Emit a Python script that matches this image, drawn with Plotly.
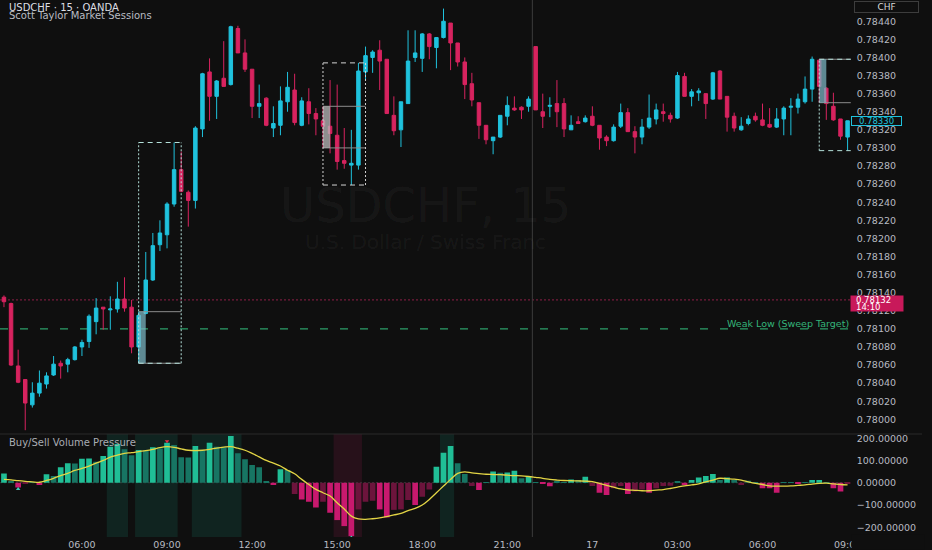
import pandas as pd
import plotly.graph_objects as go

# USDCHF 15m (OANDA)
bar_times = pd.date_range('2025-06-16 03:15', periods=120, freq='15min')
bar_step = pd.Timedelta('15min')

opens = [0.78135, 0.78128, 0.78059, 0.78044, 0.78016, 0.78029, 0.78039, 0.78049, 0.78062, 0.78061,
         0.78066, 0.78080, 0.78086, 0.78108, 0.78124, 0.78121, 0.78122, 0.78133, 0.78124, 0.78080,
         0.78117, 0.78154, 0.78193, 0.78204, 0.78238, 0.78276, 0.78251, 0.78242, 0.78321, 0.78384,
         0.78357, 0.78377, 0.78370, 0.78432, 0.78405, 0.78387, 0.78346, 0.78355, 0.78322, 0.78325,
         0.78351, 0.78364, 0.78325, 0.78351, 0.78338, 0.78330, 0.78324, 0.78314, 0.78286, 0.78281,
         0.78281, 0.78384, 0.78400, 0.78408, 0.78398, 0.78336, 0.78320, 0.78349, 0.78400, 0.78399,
         0.78426, 0.78411, 0.78422, 0.78438, 0.78416, 0.78395, 0.78371, 0.78350, 0.78325, 0.78308,
         0.78312, 0.78335, 0.78344, 0.78345, 0.78346, 0.78412, 0.78340, 0.78346, 0.78349, 0.78349,
         0.78320, 0.78329, 0.78329, 0.78335, 0.78325, 0.78312, 0.78308, 0.78324, 0.78339, 0.78318,
         0.78312, 0.78323, 0.78332, 0.78340, 0.78336, 0.78333, 0.78379, 0.78357, 0.78361, 0.78360,
         0.78354, 0.78385, 0.78357, 0.78335, 0.78320, 0.78327, 0.78335, 0.78331, 0.78326, 0.78323,
         0.78332, 0.78345, 0.78345, 0.78351, 0.78365, 0.78397, 0.78366, 0.78346, 0.78332, 0.78312]
highs = [0.78137, 0.78129, 0.78077, 0.78044, 0.78041, 0.78054, 0.78052, 0.78070, 0.78065, 0.78068,
         0.78081, 0.78088, 0.78116, 0.78134, 0.78124, 0.78136, 0.78152, 0.78157, 0.78132, 0.78119,
         0.78185, 0.78206, 0.78220, 0.78240, 0.78306, 0.78296, 0.78253, 0.78324, 0.78383, 0.78399,
         0.78375, 0.78418, 0.78435, 0.78435, 0.78420, 0.78387, 0.78370, 0.78356, 0.78346, 0.78368,
         0.78384, 0.78382, 0.78356, 0.78366, 0.78344, 0.78346, 0.78375, 0.78370, 0.78322, 0.78320,
         0.78394, 0.78412, 0.78408, 0.78419, 0.78398, 0.78357, 0.78351, 0.78430, 0.78430, 0.78427,
         0.78427, 0.78422, 0.78454, 0.78438, 0.78416, 0.78400, 0.78383, 0.78350, 0.78325, 0.78312,
         0.78336, 0.78357, 0.78357, 0.78346, 0.78357, 0.78412, 0.78360, 0.78356, 0.78375, 0.78355,
         0.78336, 0.78335, 0.78336, 0.78346, 0.78325, 0.78314, 0.78326, 0.78349, 0.78344, 0.78324,
         0.78332, 0.78359, 0.78349, 0.78349, 0.78339, 0.78384, 0.78383, 0.78365, 0.78366, 0.78360,
         0.78384, 0.78386, 0.78357, 0.78339, 0.78334, 0.78336, 0.78339, 0.78349, 0.78344, 0.78344,
         0.78346, 0.78355, 0.78360, 0.78379, 0.78401, 0.78398, 0.78367, 0.78361, 0.78332, 0.78330]
lows = [0.78124, 0.78059, 0.78040, 0.77988, 0.78013, 0.78025, 0.78034, 0.78048, 0.78045, 0.78052,
        0.78065, 0.78070, 0.78079, 0.78094, 0.78099, 0.78099, 0.78118, 0.78119, 0.78073, 0.78062,
        0.78116, 0.78153, 0.78186, 0.78189, 0.78235, 0.78251, 0.78213, 0.78233, 0.78312, 0.78330,
        0.78332, 0.78368, 0.78369, 0.78405, 0.78384, 0.78333, 0.78333, 0.78324, 0.78312, 0.78314,
        0.78340, 0.78325, 0.78324, 0.78326, 0.78314, 0.78300, 0.78294, 0.78276, 0.78277, 0.78259,
        0.78276, 0.78375, 0.78383, 0.78364, 0.78338, 0.78314, 0.78301, 0.78349, 0.78395, 0.78384,
        0.78398, 0.78388, 0.78421, 0.78386, 0.78390, 0.78354, 0.78346, 0.78310, 0.78304, 0.78293,
        0.78311, 0.78325, 0.78341, 0.78332, 0.78340, 0.78342, 0.78322, 0.78334, 0.78323, 0.78312,
        0.78320, 0.78327, 0.78328, 0.78324, 0.78298, 0.78302, 0.78307, 0.78322, 0.78318, 0.78294,
        0.78304, 0.78321, 0.78326, 0.78329, 0.78328, 0.78332, 0.78357, 0.78346, 0.78352, 0.78332,
        0.78353, 0.78354, 0.78318, 0.78318, 0.78319, 0.78325, 0.78329, 0.78324, 0.78322, 0.78322,
        0.78314, 0.78314, 0.78338, 0.78349, 0.78351, 0.78350, 0.78331, 0.78330, 0.78309, 0.78297]
closes = [0.78130, 0.78060, 0.78041, 0.78018, 0.78029, 0.78040, 0.78048, 0.78061, 0.78059, 0.78066,
          0.78080, 0.78085, 0.78114, 0.78123, 0.78122, 0.78122, 0.78133, 0.78123, 0.78080, 0.78115,
          0.78154, 0.78192, 0.78206, 0.78238, 0.78276, 0.78252, 0.78242, 0.78322, 0.78382, 0.78357,
          0.78374, 0.78368, 0.78434, 0.78405, 0.78387, 0.78346, 0.78349, 0.78325, 0.78327, 0.78352,
          0.78367, 0.78328, 0.78352, 0.78338, 0.78332, 0.78324, 0.78316, 0.78285, 0.78283, 0.78283,
          0.78385, 0.78402, 0.78406, 0.78396, 0.78338, 0.78319, 0.78351, 0.78396, 0.78405, 0.78426,
          0.78412, 0.78422, 0.78440, 0.78416, 0.78395, 0.78370, 0.78353, 0.78325, 0.78309, 0.78312,
          0.78336, 0.78347, 0.78342, 0.78342, 0.78354, 0.78342, 0.78335, 0.78347, 0.78340, 0.78321,
          0.78325, 0.78327, 0.78333, 0.78325, 0.78311, 0.78308, 0.78323, 0.78339, 0.78318, 0.78312,
          0.78323, 0.78333, 0.78342, 0.78338, 0.78332, 0.78380, 0.78357, 0.78362, 0.78363, 0.78349,
          0.78383, 0.78354, 0.78334, 0.78322, 0.78324, 0.78332, 0.78331, 0.78325, 0.78323, 0.78332,
          0.78344, 0.78346, 0.78354, 0.78365, 0.78398, 0.78368, 0.78349, 0.78331, 0.78313, 0.78330]

# Buy/Sell Volume Pressure histogram + its smoothed line
pressure = [42, 5, -22, -4, 3, -10, 38, 30, 69, 87,
            86, 108, 109, 94, 120, 162, 174, 150, 124, 147,
            145, 159, 154, 180, 169, 114, 113, 165, 147, 180,
            162, 160, 210, 132, 105, 80, 69, 5, -10, 60,
            57, -51, -75, -85, -111, -85, -135, -168, -195, -240,
            -120, -85, -81, -120, -156, -122, -120, -78, -100, -63,
            -30, 72, 135, 165, 87, 39, -15, -33, 2, 50,
            45, 46, 54, 20, 30, 2, -6, -16, 8, 1,
            15, 12, 27, -15, -45, -55, -25, -15, -51, -40,
            -30, -45, -25, -15, -14, 5, -10, 12, 24, 30,
            39, 12, 24, 12, -10, 9, 1, -25, -25, -45,
            2, 1, -3, 1, 12, 12, 2, -25, -40, -5]
pressure_signal = [15, 13, 9, 6, 4, 2, 10, 20, 32, 42,
                   55, 64, 75, 88, 100, 115, 124, 132, 135, 140,
                   144, 150, 158, 162, 159, 152, 146, 144, 146, 150,
                   156, 160, 162, 155, 146, 132, 116, 100, 88, 75,
                   56, 40, 15, -8, -30, -45, -60, -90, -118, -150,
                   -163, -165, -162, -158, -152, -145, -138, -125, -115, -100,
                   -75, -45, -15, 15, 42, 49, 44, 41, 38, 37,
                   36, 34, 32, 31, 28, 24, 20, 15, 12, 10,
                   9, 8, 7, 5, -3, -12, -20, -28, -32, -34,
                   -36, -36, -33, -31, -26, -20, -14, -10, -5, 4,
                   12, 20, 18, 16, 12, 4, -3, -8, -14, -15,
                   -15, -14, -12, -10, -6, -3, -2, -5, -8, -10]

# shaded pressure zones (bar index from/to)
band_from = [15, 19, 27, 47, 62]
band_to = [17, 24, 33, 50, 63]
band_side = ['buy', 'buy', 'buy', 'sell', 'buy']
signal_up_idx = [2, 49]
signal_down_idx = [23]

# market sessions: first bar, bars per box
session_start = [19, 45, 115]
session_kind = ['london', 'newyork', 'london']
session_bars = 6

price_ticks = [0.78000, 0.78020, 0.78040, 0.78060, 0.78080, 0.78100, 0.78120, 0.78140,
               0.78160, 0.78180, 0.78200, 0.78220, 0.78240, 0.78260, 0.78280, 0.78300,
               0.78320, 0.78340, 0.78360, 0.78380, 0.78400, 0.78420, 0.78440]
pressure_ticks = [-200, -100, 0, 100, 200]
time_tick_idx = [11, 23, 35, 47, 59, 71, 83, 95, 107, 119]
time_tick_text = ['06:00', '09:00', '12:00', '15:00', '18:00', '21:00', '17', '03:00', '06:00', '09:00']

weak_low = 0.78100
last_price = 0.78132
countdown = '14:10'
quote_price = 0.78330
crosshair_time = pd.Timestamp('2025-06-16 21:53')

# styling
BG = '#0f0f0f'
UP = '#1fc2dd'
DOWN = '#d7235f'
FONT = 'DejaVu Sans'
AXIS_TXT = '#b8bbc2'
PLOT_R = 860 / 932
PANE_T = 1 - 434 / 550
PANE_B = 1 - 537 / 550
box_line = {'london': '#b4e0da', 'newyork': '#d4d4d4'}
box_fill = {'london': 'rgba(125,185,198,0.72)', 'newyork': 'rgba(185,185,185,0.75)'}


def t_at(i):
    return bar_times[0] + i * bar_step


def px_y(y):
    # pixel row -> paper coordinate
    return 1 - y / 550


fig = go.Figure()

# indicator pane
bar_cols = []
for k, v in enumerate(pressure):
    prev = abs(pressure[k - 1]) if k > 0 else 0
    strong = abs(v) >= prev
    if v >= 0:
        bar_cols.append('#20be96' if strong else '#177563')
    else:
        bar_cols.append('#c8196e' if strong else '#6c143c')

fig.add_trace(go.Bar(x=bar_times, y=pressure, marker_color=bar_cols, marker_line_width=0,
                     width=0.8 * bar_step.total_seconds() * 1000,
                     xaxis='x', yaxis='y', hoverinfo='skip'))
fig.add_trace(go.Scatter(x=bar_times, y=pressure_signal, mode='lines',
                         line=dict(color='#e3d545', width=1.3, shape='spline'),
                         xaxis='x', yaxis='y', hoverinfo='skip'))
fig.add_trace(go.Scatter(x=[bar_times[i] for i in signal_up_idx],
                         y=[pressure[i] - 6 for i in signal_up_idx], mode='markers',
                         marker=dict(symbol='triangle-up', size=4, color='#3fc9b4'),
                         xaxis='x', yaxis='y', hoverinfo='skip'))
fig.add_trace(go.Scatter(x=[bar_times[i] for i in signal_down_idx],
                         y=[pressure[i] + 6 for i in signal_down_idx], mode='markers',
                         marker=dict(symbol='triangle-down', size=4, color='#e0304a'),
                         xaxis='x', yaxis='y', hoverinfo='skip'))

for a, b, side in zip(band_from, band_to, band_side):
    fig.add_shape(type='rect', xref='x', yref='y domain', x0=t_at(a - 0.5), x1=t_at(b + 0.5),
                  y0=0, y1=1, line_width=0, layer='below',
                  fillcolor='rgba(30,170,140,0.14)' if side == 'buy' else 'rgba(200,30,100,0.13)')
fig.add_shape(type='line', xref='x domain', yref='y', x0=0, x1=1, y0=0, y1=0,
              line=dict(color='#3a3a3a', width=1, dash='2px,2px'), layer='below')

# price pane
fig.add_trace(go.Candlestick(x=bar_times, open=opens, high=highs, low=lows, close=closes,
                             xaxis='x2', yaxis='y2', whiskerwidth=0,
                             increasing=dict(line=dict(color=UP, width=1), fillcolor=UP),
                             decreasing=dict(line=dict(color=DOWN, width=1), fillcolor=DOWN),
                             hoverinfo='skip'))

for s, kind in zip(session_start, session_kind):
    e = s + session_bars
    top = max(highs[s:e])
    bot = min(lows[s:e])
    x0, x1 = t_at(s), t_at(e)
    # opening range of the first bar
    for lvl in (highs[s], lows[s]):
        fig.add_shape(type='line', xref='x2', yref='y2', x0=x0, x1=x1, y0=lvl, y1=lvl,
                      line=dict(color='#8c8c8c', width=1), layer='above')
    fig.add_shape(type='rect', xref='x2', yref='y2', x0=x0, x1=t_at(s + 1), y0=lows[s], y1=highs[s],
                  fillcolor=box_fill[kind], line_width=0, layer='above')
    # session range box
    for xx in (x0, x1):
        fig.add_shape(type='line', xref='x2', yref='y2', x0=xx, x1=xx, y0=bot, y1=top,
                      line=dict(color=box_line[kind], width=1, dash='2px,2px'), layer='above')
    for yy in (top, bot):
        fig.add_shape(type='line', xref='x2', yref='y2', x0=x0, x1=x1, y0=yy, y1=yy,
                      line=dict(color=box_line[kind], width=1, dash='5px,4px'), layer='above')

fig.add_shape(type='line', xref='x2 domain', yref='y2', x0=0, x1=1, y0=last_price, y1=last_price,
              line=dict(color='#8e1f47', width=1, dash='2px,2px'), layer='below')
fig.add_shape(type='line', xref='x2 domain', yref='y2', x0=0, x1=1, y0=weak_low, y1=weak_low,
              line=dict(color='#2c9e69', width=1.2, dash='8px,12px'), layer='below')
fig.add_annotation(text='Weak Low (Sweep Target)', xref='paper', yref='y2', x=860 / 932, y=weak_low,
                   xanchor='right', yanchor='bottom', yshift=-2, showarrow=False,
                   font=dict(family=FONT, size=9.5, color='#34b57a'))

# crosshair
fig.add_shape(type='line', xref='x', yref='paper', x0=crosshair_time, x1=crosshair_time,
              y0=PANE_B, y1=1, line=dict(color='#3c3c3c', width=1), layer='below')

# pane separator
fig.add_shape(type='line', xref='paper', yref='paper', x0=0, x1=1, y0=PANE_T, y1=PANE_T,
              line=dict(color='#2a2a2a', width=1))

# right scale labels (annotations sit above the tick labels)
fig.add_annotation(text=' ', xref='paper', yref='y2', x=859 / 932, y=last_price,
                   xanchor='left', yanchor='middle', yshift=-3.5, width=52, height=15,
                   bgcolor='#c8195a', borderpad=0, showarrow=False)
fig.add_annotation(text=f'{last_price:.5f}', xref='paper', yref='y2', x=863 / 932, y=last_price,
                   xanchor='left', yanchor='middle', showarrow=False,
                   font=dict(family=FONT, size=8.5, color='#ffffff'))
fig.add_annotation(text=countdown, xref='paper', yref='y2', x=863 / 932, y=last_price,
                   xanchor='left', yanchor='middle', yshift=-7.5, showarrow=False,
                   font=dict(family=FONT, size=8.5, color='#ffffff'))
fig.add_annotation(text=f'{quote_price:.5f}', xref='paper', yref='y2', x=860 / 932, y=quote_price,
                   xanchor='left', yanchor='middle', width=49, height=8, borderpad=0,
                   bgcolor=BG, bordercolor=UP, borderwidth=1, showarrow=False,
                   font=dict(family=FONT, size=8.5, color=UP))
fig.add_annotation(text='CHF', xref='paper', yref='paper', x=863 / 932, y=px_y(1.5),
                   xanchor='left', yanchor='top', width=63, height=10, borderpad=0,
                   bgcolor=BG, bordercolor='#3d3d3d', borderwidth=1, showarrow=False,
                   font=dict(family=FONT, size=9, color='#d8d8d8'))
# clip the last time label at the scale edge
fig.add_annotation(text=' ', xref='paper', yref='paper', x=PLOT_R, y=0, xanchor='left',
                   yanchor='bottom', width=72, height=14, bgcolor=BG, borderpad=0, showarrow=False)

# texts
fig.add_annotation(text='USDCHF · 15 · OANDA', xref='paper', yref='paper', x=7 / 932, y=px_y(7.5),
                   xanchor='left', yanchor='middle', showarrow=False,
                   font=dict(family=FONT, size=10, color='#dcdee3'))
fig.add_annotation(text='Scott Taylor Market Sessions', xref='paper', yref='paper', x=7 / 932,
                   y=px_y(15.5), xanchor='left', yanchor='middle', showarrow=False,
                   font=dict(family=FONT, size=10, color='#b9bcc3'))
fig.add_annotation(text='Buy/Sell Volume Pressure', xref='paper', yref='paper', x=7 / 932,
                   y=px_y(442.5), xanchor='left', yanchor='middle', showarrow=False,
                   font=dict(family=FONT, size=10, color='#a9acb3'))
fig.add_annotation(text='USDCHF, 15', xref='paper', yref='paper', x=430 / 932, y=px_y(205),
                   xanchor='center', yanchor='middle', showarrow=False,
                   font=dict(family=FONT, size=48, color='rgba(255,255,255,0.05)'))
fig.add_annotation(text='U.S. Dollar / Swiss Franc', xref='paper', yref='paper', x=430 / 932,
                   y=px_y(242), xanchor='center', yanchor='middle', showarrow=False,
                   font=dict(family=FONT, size=20, color='rgba(255,255,255,0.05)'))

x_range = [t_at(-0.56), t_at(119.45)]
fig.update_layout(
    width=932, height=550, margin=dict(l=0, r=0, t=0, b=0),
    paper_bgcolor=BG, plot_bgcolor=BG, showlegend=False,
    font=dict(family=FONT, size=9.5, color=AXIS_TXT),
    xaxis=dict(domain=[0, PLOT_R], anchor='y', range=x_range, showgrid=False, zeroline=False,
               tickvals=[bar_times[i] for i in time_tick_idx], ticktext=time_tick_text,
               ticks='', showline=False, rangeslider=dict(visible=False),
               tickfont=dict(family=FONT, size=9.5, color=AXIS_TXT)),
    xaxis2=dict(domain=[0, PLOT_R], anchor='y2', matches='x', showticklabels=False,
                showgrid=False, zeroline=False, ticks='', rangeslider=dict(visible=False)),
    yaxis=dict(domain=[PANE_B, PANE_T], anchor='x', side='right', range=[-244, 219],
               tickvals=pressure_ticks, tickformat='.5f', showgrid=False, zeroline=False,
               ticks='', ticklabelstandoff=5, automargin=False,
               tickfont=dict(family=FONT, size=9.5, color=AXIS_TXT)),
    yaxis2=dict(domain=[PANE_T, 1], anchor='x2', side='right', range=[0.779838, 0.784635],
                tickvals=price_ticks, tickformat='.5f', showgrid=False, zeroline=False,
                ticks='', ticklabelstandoff=5, automargin=False,
                tickfont=dict(family=FONT, size=9.5, color=AXIS_TXT)),
)

# drop the default page margin so the 932x550 figure fills the window
fig.write_html('out.html', config={'displayModeBar': False},
               post_script="document.body.style.margin='0';"
                           "document.body.style.background='#0f0f0f';")
